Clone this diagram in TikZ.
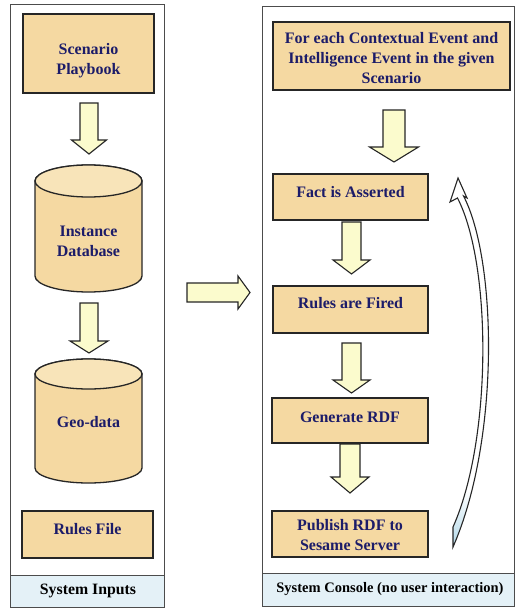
\documentclass[tikz,border=0pt]{standalone}
\usepackage{fontspec}
\setmainfont{Liberation Serif}
\begin{document}
\begin{tikzpicture}[x=1pt,y=1pt,
  boxst/.style={draw=black!85,line width=1.3pt,fill=boxfill,rectangle,inner sep=0pt},
  txt/.style={font=\bfseries\fontsize{16}{20}\selectfont,text=navy,align=center,inner sep=0pt},
  bandtxt/.style={font=\bfseries\fontsize{15.8}{19}\selectfont,text=black,inner sep=0pt},
  arrowst/.style={draw=black!85,line width=1.1pt,fill=arrowfill,line join=miter},
  panel/.style={draw=black!70,line width=1pt},
  cyl/.style={draw=black!85,line width=1.3pt,fill=boxfill}]
\definecolor{boxfill}{RGB}{245,217,162}
\definecolor{cyltop}{RGB}{248,228,185}
\definecolor{navy}{RGB}{28,28,105}
\definecolor{arrowfill}{RGB}{251,251,205}
\definecolor{bandfill}{RGB}{228,241,247}
\definecolor{loopblue}{RGB}{175,215,232}
\newcommand\dnarrow[6]{%
  \draw[arrowst] (#1-#4,-#2) -- (#1+#4,-#2) -- (#1+#4,-#3+#6) -- (#1+#5,-#3+#6) -- (#1,-#3)
     -- (#1-#5,-#3+#6) -- (#1-#4,-#3+#6) -- cycle;}
\newcommand\looppath{(458,-178) -- (467,-198) -- (463.5,-196)
  .. controls (497,-260) and (500,-440) .. (453,-547)
  -- (453,-527)
  .. controls (492,-440) and (492,-265) .. (457.5,-198)
  -- (450,-202) -- cycle}
\useasboundingbox (0,0) rectangle (516,-609);
\fill[white] (0,0) rectangle (516,-609);
% panels
\fill[bandfill] (10,-575) rectangle (164,-607);
\draw[panel] (10,-5) rectangle (164,-607);
\draw[panel] (10,-575) -- (164,-575);
\fill[bandfill] (262,-573) rectangle (514,-606);
\draw[panel] (262,-7) rectangle (514,-606);
\draw[panel] (262,-573) -- (514,-573);
\node[bandtxt] (sysin) at (88,-591) {System Inputs};
\node[bandtxt,font=\bfseries\fontsize{14.5}{18}\selectfont] (syscon) at (390,-589) {System Console (no user interaction)};
% left column
\node[boxst,minimum width=131pt,minimum height=79pt] (play) at (88.5,-53.5) {};
\node[txt] (playt) at (88.5,-61) {Scenario\\Playbook};
\dnarrow{89}{103}{154}{9}{17.5}{14}
% cylinder 1
\path[cyl] (35,-181) -- (35,-276) arc[start angle=180,end angle=360,x radius=53.5,y radius=16] -- (142,-181)
   arc[start angle=0,end angle=180,x radius=53.5,y radius=16] -- cycle;
\draw[cyl,fill=cyltop] (88.5,-181) ellipse[x radius=53.5,y radius=16];
\node[txt] (inst) at (88.5,-241) {Instance\\Database};
\dnarrow{89}{303}{353}{9}{19}{12}
% cylinder 2
\path[cyl] (35,-374) -- (35,-468) arc[start angle=180,end angle=360,x radius=53.5,y radius=15] -- (142,-374)
   arc[start angle=0,end angle=180,x radius=53.5,y radius=15] -- cycle;
\draw[cyl,fill=cyltop] (88.5,-374) ellipse[x radius=53.5,y radius=15];
\node[txt] (geo) at (88.5,-422.5) {Geo-data};
\node[boxst,minimum width=131pt,minimum height=47pt] (rulesf) at (87.5,-534.5) {};
\node[txt] (rulesft) at (87.5,-529) {Rules File};
% middle arrow
\draw[arrowst] (187,-283) -- (238,-283) -- (238,-276) -- (250,-292.5) -- (238,-309) -- (238,-302) -- (187,-302) -- cycle;
% right column
\node[boxst,minimum width=237pt,minimum height=68pt] (each) at (391.5,-56) {};
\node[txt] (eacht) at (391.5,-58) {For each Contextual Event and\\Intelligence Event in the given\\Scenario};
\dnarrow{394}{110}{162}{11}{24.5}{15}
\node[boxst,minimum width=155pt,minimum height=46pt] (fact) at (350.5,-197) {};
\node[txt] (factt) at (350.5,-192) {Fact is Asserted};
\dnarrow{351.5}{222}{274}{9.5}{18.5}{14}
\node[boxst,minimum width=155pt,minimum height=47pt] (fired) at (350.5,-309.5) {};
\node[txt] (firedt) at (350.5,-303) {Rules are Fired};
\dnarrow{351.5}{343}{393}{9.5}{18.5}{13}
\node[boxst,minimum width=156pt,minimum height=45pt] (gen) at (350,-420.5) {};
\node[txt] (gent) at (350,-417) {Generate RDF};
\dnarrow{350}{444}{493}{10}{19}{16}
\node[boxst,minimum width=156pt,minimum height=46pt] (pub) at (350,-534) {};
\node[txt] (pubt) at (350,-535) {Publish RDF to\\Sesame Server};
% curved loop arrow
\fill[white] \looppath;
\begin{scope}
  \clip \looppath;
  \shade[top color=white,bottom color=loopblue] (445,-490) rectangle (500,-550);
\end{scope}
\draw[draw=black!85,line width=1.1pt,line join=miter] \looppath;
\end{tikzpicture}
\end{document}
